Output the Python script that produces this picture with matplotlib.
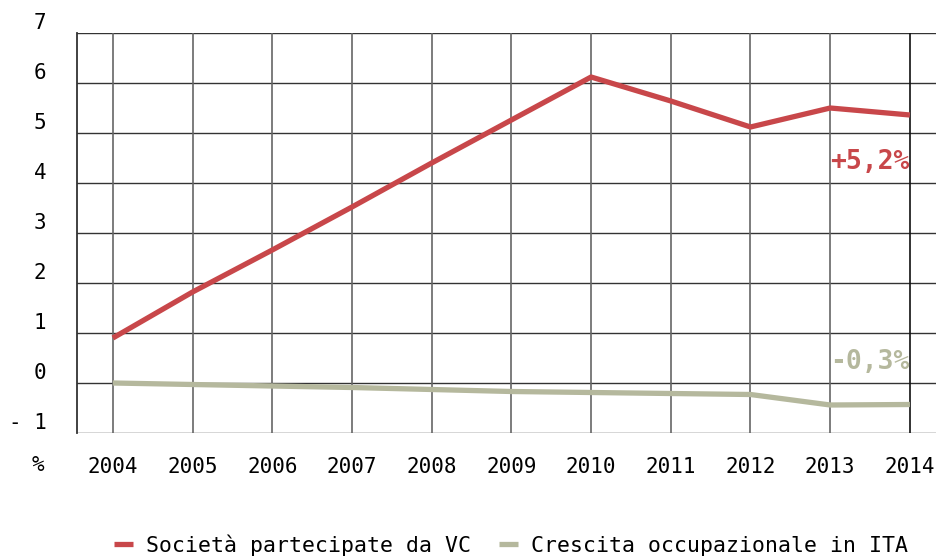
import numpy as np
import matplotlib.pyplot as plt

years = [2004, 2005, 2006, 2007, 2008, 2009, 2010, 2011, 2012, 2013, 2014]
vc_companies = [0.9, 1.82, 2.66, 3.52, 4.4, 5.26, 6.12, 5.64, 5.12, 5.5, 5.36]
employment_ita = [0.0, -0.03, -0.06, -0.09, -0.13, -0.17, -0.19, -0.21, -0.23, -0.44, -0.43]
yticks = [-1, 0, 1, 2, 3, 4, 5, 6, 7]
ytick_labels = ["- 1", "0", "1", "2", "3", "4", "5", "6", "7"]
series_names = ["Società partecipate da VC", "Crescita occupazionale in ITA"]
end_labels = ["+5,2%", "-0,3%"]

RED = "#c8474a"
GREEN = "#b5b89d"

plt.rcParams["font.family"] = ["DejaVu Sans Mono"]

fig = plt.figure(figsize=(9.37, 5.56), dpi=100)
ax = fig.add_axes([77 / 937, 1 - 433 / 556, 1 - 77 / 937, 400 / 556])

ax.plot(years, vc_companies, color=RED, lw=3.8, solid_capstyle="butt", label=series_names[0], zorder=3)
ax.plot(years, employment_ita, color=GREEN, lw=3.8, solid_capstyle="butt", label=series_names[1], zorder=3)

ax.set_xlim(2003.55, 2014.34)
ax.set_ylim(-1, 7)

# grid
for y in yticks:
    ax.axhline(y, color="#333333", lw=1.0, zorder=1)
for i, x in enumerate(years):
    ax.axvline(x, color="#111111" if i == len(years) - 1 else "#666666", lw=1.2, zorder=1)

for s in ["top", "right", "bottom"]:
    ax.spines[s].set_visible(False)
ax.spines["left"].set_color("#333333")
ax.spines["left"].set_linewidth(1.3)

ax.set_xticks(years)
ax.set_xticklabels([str(y) for y in years], fontsize=15)
ax.set_yticks(yticks)
ax.set_yticklabels(ytick_labels, fontsize=15)
ax.tick_params(length=0)
ax.tick_params(axis="x", pad=17)
ax.tick_params(axis="y", pad=22)
for lbl in ax.get_yticklabels():
    lbl.set_verticalalignment("bottom")

fig.text(38 / 937, 1 - 465 / 556, "%", fontsize=15, ha="center", va="center")

ax.text(2014, 4.42, end_labels[0], color=RED, fontsize=19, fontweight="bold",
        ha="right", va="center")
ax.text(2014, 0.42, end_labels[1], color=GREEN, fontsize=19, fontweight="bold",
        ha="right", va="center")

fig.legend(loc="center", bbox_to_anchor=(511 / 937, 1 - 545 / 556), ncol=2, frameon=False,
           fontsize=15.5, handlelength=0.9, handletextpad=0.6, columnspacing=1.3,
           borderpad=0)

fig.savefig("out.png", dpi=100)
